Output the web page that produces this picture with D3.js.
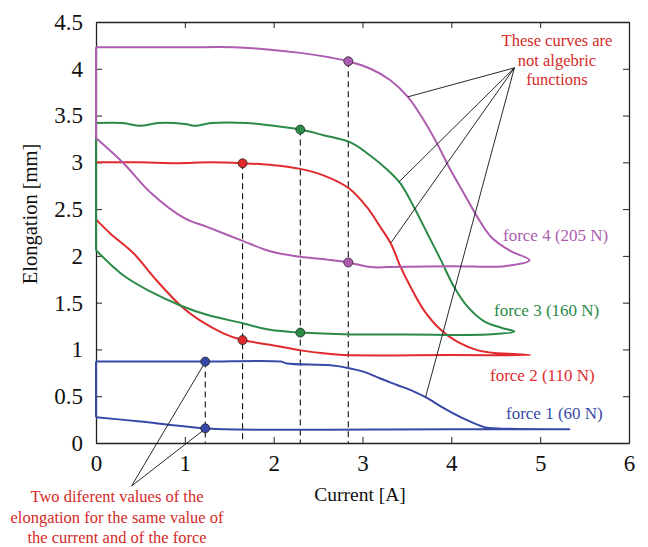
<!DOCTYPE html>
<html lang="en">
<head>
  <meta charset="utf-8">
  <title>Elongation vs current</title>
  <script src="https://cdn.jsdelivr.net/npm/d3@7"></script>
  <style>
  body { margin: 0; background: #fff; }
  svg { font-family: "Liberation Serif", "Times New Roman", serif; }
  </style>
</head>
<body>
  <script>
  // loops: [current A, elongation mm], starting at x=0 lower point, up, across, back
  var force1 = [[0,0.275],[0,0.87],[0.6,0.87],[1.23,0.87],[2.08,0.87],[2.15,0.85],[2.64,0.83],[2.85,0.80],[3.02,0.76],
    [3.20,0.69],[3.39,0.62],[3.58,0.55],[3.73,0.48],[3.92,0.37],[4.14,0.26],[4.37,0.17],[4.52,0.155],[5.33,0.146],
    [4.0,0.146],[1.44,0.146],[1.23,0.157],[0.87,0.19],[0.50,0.23],[0,0.275]];
  var force2 = [[0,2.39],[0,3.0],[0.5,3.0],[0.9,2.99],[1.3,3.0],[1.65,2.99],[2.0,2.97],[2.30,2.93],[2.56,2.86],
    [2.85,2.72],[3.05,2.52],[3.20,2.31],[3.32,2.13],[3.43,1.88],[3.54,1.67],[3.69,1.42],[3.88,1.21],[4.07,1.08],
    [4.30,0.99],[4.52,0.96],[4.71,0.95],[4.89,0.94],[4.0,0.94],[2.79,0.94],[2.56,0.96],[2.30,0.99],[1.96,1.05],
    [1.65,1.10],[1.44,1.17],[1.17,1.31],[0.95,1.47],[0.68,1.74],[0.42,2.03],[0.16,2.24],[0,2.39]];
  var force3 = [[0,2.06],[0,3.42],[0.3,3.42],[0.5,3.39],[0.7,3.42],[1.0,3.41],[1.12,3.39],[1.3,3.42],[1.7,3.42],
    [2.0,3.39],[2.30,3.35],[2.56,3.29],[2.87,3.21],[3.09,3.07],[3.28,2.92],[3.43,2.77],[3.58,2.52],[3.73,2.24],
    [3.88,1.96],[4.03,1.67],[4.18,1.46],[4.37,1.30],[4.57,1.23],[4.71,1.19],[4.4,1.16],[3.5,1.16],[2.87,1.16],
    [2.30,1.18],[1.96,1.21],[1.65,1.28],[1.25,1.37],[0.95,1.47],[0.61,1.62],[0.31,1.79],[0,2.06]];
  var force4 = [[0,3.26],[0,4.23],[1.0,4.23],[1.55,4.23],[1.9,4.21],[2.3,4.17],[2.64,4.12],[2.84,4.08],[3.09,4.00],
    [3.31,3.88],[3.51,3.70],[3.69,3.45],[3.84,3.20],[3.99,2.92],[4.14,2.67],[4.29,2.42],[4.45,2.20],[4.67,2.05],
    [4.88,1.955],[4.6,1.89],[4.0,1.89],[3.3,1.88],[3.09,1.88],[2.84,1.93],[2.6,1.96],[2.3,1.99],[1.96,2.05],
    [1.65,2.16],[1.25,2.31],[1.0,2.40],[0.61,2.68],[0.31,2.99],[0,3.26]];

  var seriesNames = ["force 1 (60 N)", "force 2 (110 N)", "force 3 (160 N)", "force 4 (205 N)"];
  var seriesColors = ["#3848a6", "#e02a2e", "#2b8a48", "#ad5cb0"];
  var seriesData = [force1, force2, force3, force4];

  // marked points: same current, two elongations
  var markCurrent = [1.23, 1.65, 2.30, 2.84];
  var markUpper = [0.87, 2.99, 3.35, 4.08];
  var markLower = [0.157, 1.10, 1.18, 1.93];

  var xTicks = [0, 1, 2, 3, 4, 5, 6];
  var yTicks = [0, 0.5, 1, 1.5, 2, 2.5, 3, 3.5, 4, 4.5];

  var width = 648, height = 547;
  var plotL = 96, plotR = 629, plotT = 22, plotB = 443;
  var red = "#d42a2a";

  var svg = d3.select("body").append("svg")
    .attr("width", width)
    .attr("height", height);

  var x = d3.scaleLinear().domain([0, 6]).range([plotL, plotR]);
  var y = d3.scaleLinear().domain([0, 4.5]).range([plotB, plotT]);

  // axes with inward ticks, mirrored on top/right
  var tickFmt = function(d) { return String(d); };
  svg.append("g")
    .attr("transform", "translate(0," + plotB + ")")
    .call(d3.axisBottom(x).tickValues(xTicks).tickFormat(tickFmt).tickSizeInner(-6).tickSizeOuter(0).tickPadding(12))
    .call(function(g) { g.selectAll("text").attr("font-size", 23).attr("fill", "#111").attr("font-family", "Liberation Serif"); });
  svg.append("g")
    .attr("transform", "translate(" + plotL + ",0)")
    .call(d3.axisLeft(y).tickValues(yTicks).tickFormat(tickFmt).tickSizeInner(-6).tickSizeOuter(0).tickPadding(13))
    .call(function(g) { g.selectAll("text").attr("font-size", 23).attr("fill", "#111").attr("font-family", "Liberation Serif"); });
  svg.append("g")
    .attr("transform", "translate(0," + plotT + ")")
    .call(d3.axisTop(x).tickValues(xTicks).tickFormat("").tickSizeInner(-6).tickSizeOuter(0));
  svg.append("g")
    .attr("transform", "translate(" + plotR + ",0)")
    .call(d3.axisRight(y).tickValues(yTicks).tickFormat("").tickSizeInner(-6).tickSizeOuter(0));
  svg.selectAll(".domain").attr("stroke", "#222").attr("stroke-width", 1.3);
  svg.selectAll(".tick line").attr("stroke", "#222");

  svg.append("text")
    .attr("x", 360).attr("y", 501)
    .attr("text-anchor", "middle")
    .attr("font-size", 19.5)
    .attr("fill", "#111")
    .text("Current [A]");
  svg.append("text")
    .attr("transform", "translate(37,214) rotate(-90)")
    .attr("text-anchor", "middle")
    .attr("font-size", 20.5)
    .attr("fill", "#111")
    .text("Elongation [mm]");

  // dashed verticals from upper marker to axis
  svg.selectAll(".drop").data(markCurrent).enter().append("line")
    .attr("x1", function(d) { return x(d); })
    .attr("x2", function(d) { return x(d); })
    .attr("y1", function(d, i) { return y(markUpper[i]); })
    .attr("y2", y(0))
    .attr("stroke", "#111")
    .attr("stroke-width", 1.1)
    .attr("stroke-dasharray", "6,4");

  var smooth = d3.line()
    .x(function(d) { return x(d[0]); })
    .y(function(d) { return y(d[1]); })
    .curve(d3.curveCatmullRom.alpha(0.5));
  var straight = d3.line()
    .x(function(d) { return x(d[0]); })
    .y(function(d) { return y(d[1]); });

  var curves = svg.selectAll(".curve").data(seriesData).enter().append("g");
  // vertical jump at zero current, then the loop itself
  curves.append("path")
    .attr("d", function(d) { return straight(d.slice(0, 2)); });
  curves.append("path")
    .attr("d", function(d) { return smooth(d.slice(1)); });
  curves.selectAll("path")
    .attr("fill", "none")
    .attr("stroke", function() { return seriesColors[seriesData.indexOf(d3.select(this.parentNode).datum())]; })
    .attr("stroke-width", 2)
    .attr("stroke-linejoin", "round");

  // annotation pointers
  var topFrom = [4.71, 4.01];
  var topTo = [[3.51, 3.70], [3.41, 2.79], [3.32, 2.14], [3.71, 0.49]];
  svg.selectAll(".ptrTop").data(topTo).enter().append("line")
    .attr("x1", x(topFrom[0])).attr("y1", y(topFrom[1]))
    .attr("x2", function(d) { return x(d[0]); })
    .attr("y2", function(d) { return y(d[1]); })
    .attr("stroke", "#111").attr("stroke-width", 0.9);

  var botFrom = [0.40, -0.46];
  var botTo = [[1.22, 0.85], [1.20, 0.13]];
  svg.selectAll(".ptrBot").data(botTo).enter().append("line")
    .attr("x1", x(botFrom[0])).attr("y1", y(botFrom[1]))
    .attr("x2", function(d) { return x(d[0]); })
    .attr("y2", function(d) { return y(d[1]); })
    .attr("stroke", "#111").attr("stroke-width", 0.9);

  // markers
  [markUpper, markLower].forEach(function(vals) {
    svg.selectAll(null).data(markCurrent).enter().append("circle")
      .attr("cx", function(d) { return x(d); })
      .attr("cy", function(d, i) { return y(vals[i]); })
      .attr("r", 4.5)
      .attr("fill", function(d, i) { return seriesColors[i]; })
      .attr("stroke", "#222")
      .attr("stroke-width", 0.8);
  });

  // series labels
  var labelPos = [[506, 419], [490, 381], [494, 316], [503, 241]];
  svg.selectAll(".lbl").data(seriesNames).enter().append("text")
    .attr("x", function(d, i) { return labelPos[i][0]; })
    .attr("y", function(d, i) { return labelPos[i][1]; })
    .attr("font-size", 17)
    .attr("fill", function(d, i) { return seriesColors[i]; })
    .text(function(d) { return d; });

  var noteTop = ["These curves are", "not algebric", "functions"];
  svg.selectAll(".noteTop").data(noteTop).enter().append("text")
    .attr("x", 557)
    .attr("y", function(d, i) { return 46 + i * 19.5; })
    .attr("text-anchor", "middle")
    .attr("font-size", 16.5)
    .attr("fill", red)
    .text(function(d) { return d; });

  var noteBot = ["Two diferent values of the", "elongation for the same value of", "the current and of the force"];
  svg.selectAll(".noteBot").data(noteBot).enter().append("text")
    .attr("x", 117)
    .attr("y", function(d, i) { return 502 + i * 20.7; })
    .attr("text-anchor", "middle")
    .attr("font-size", 16.5)
    .attr("fill", red)
    .text(function(d) { return d; });
  </script>
</body>
</html>
